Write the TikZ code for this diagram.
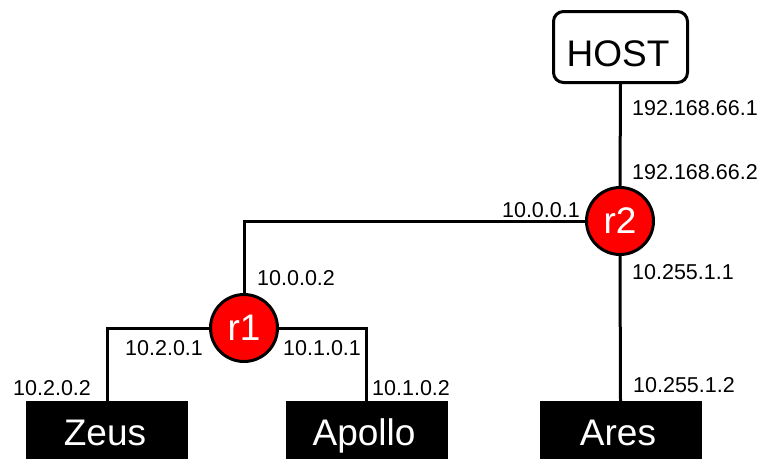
\documentclass[tikz,border=0pt]{standalone}
\usepackage{fontspec}
\setmainfont{Liberation Sans}
\begin{document}
\begin{tikzpicture}[x=1pt,y=-1pt,
  conn/.style={line width=3pt,line join=miter,draw=black},
  ip/.style={inner sep=0pt,font=\fontsize{21.5}{24}\selectfont},
  router/.style={circle,fill=red,draw=black,line width=3pt,minimum size=67pt,inner sep=0pt},
  hostbox/.style={rectangle,rounded corners=10pt,draw=black,fill=white,line width=3pt,minimum width=134pt,minimum height=71pt,inner sep=0pt},
  pcbox/.style={rectangle,fill=black,minimum width=162pt,minimum height=58pt,inner sep=0pt},
  big/.style={inner sep=0pt,font=\fontsize{37}{40}\selectfont},
  bigw/.style={big,text=white}
]
\useasboundingbox (0,0) rectangle (761,459);
\node[hostbox] (host) at (620.5,47) {};
\node[big,anchor=base] (hosttxt) at (618,66) {HOST};
\node[router] (r2) at (620,221) {};
\node[bigw] (r2txt) at (620,221) {r2};
\node[router] (r1) at (244,328) {};
\node[bigw] (r1txt) at (244,328) {r1};
\node[pcbox] (zeus) at (107,430) {};
\node[pcbox] (apollo) at (366.5,430) {};
\node[pcbox] (ares) at (620.5,430) {};
\node[bigw,anchor=base] (zeustxt) at (105,445) {Zeus};
\node[bigw,anchor=base] (apollotxt) at (364,445) {Apollo};
\node[bigw,anchor=base] (arestxt) at (618,445) {Ares};
\draw[conn] (host.south) -- (r2.north);
\draw[conn] (r2.west) -| (r1.north);
\draw[conn] (r1.west) -| (zeus.north);
\draw[conn] (r1.east) -| (apollo.north);
\draw[conn] (r2.south) -- (ares.north);
\node[ip,anchor=west] (l1) at (632,108) {192.168.66.1};
\node[ip,anchor=west] (l2) at (632,172) {192.168.66.2};
\node[ip,anchor=east] (l3) at (580,210) {10.0.0.1};
\node[ip,anchor=west] (l4) at (257,278) {10.0.0.2};
\node[ip,anchor=west] (l5) at (632,272) {10.255.1.1};
\node[ip,anchor=west] (l6) at (633,385) {10.255.1.2};
\node[ip,anchor=west] (l7) at (125,348) {10.2.0.1};
\node[ip,anchor=west] (l8) at (283,348) {10.1.0.1};
\node[ip,anchor=west] (l9) at (13,388) {10.2.0.2};
\node[ip,anchor=west] (l10) at (372,388) {10.1.0.2};
\end{tikzpicture}
\end{document}
